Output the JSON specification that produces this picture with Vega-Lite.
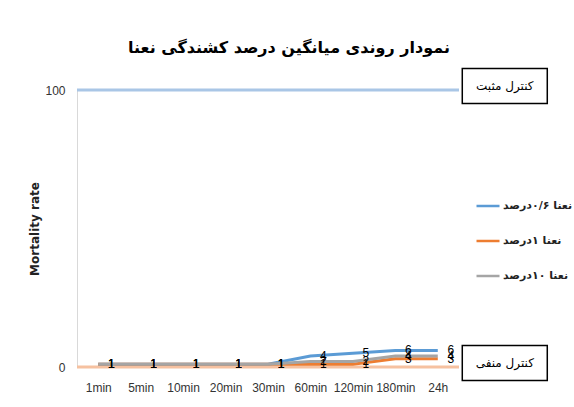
{
  "$schema": "https://vega.github.io/schema/vega-lite/v6.json",
  "width": 382,
  "height": 277,
  "autosize": {"type": "none"},
  "padding": {"left": 77, "top": 90, "right": 115, "bottom": 40},
  "background": "white",
  "config": {"view": {"stroke": null}, "font": "DejaVu Sans"},
  "title": {
    "text": "نمودار روندی میانگین درصد کشندگی نعنا",
    "font": "DejaVu Sans",
    "fontSize": 16,
    "fontWeight": "bold",
    "color": "black",
    "anchor": "middle",
    "dx": 21,
    "offset": 10
  },
  "datasets": {
    "series": [
      {"time": "1min", "series": "نعنا ۰/۶درصد", "value": 1},
      {"time": "5min", "series": "نعنا ۰/۶درصد", "value": 1},
      {"time": "10min", "series": "نعنا ۰/۶درصد", "value": 1},
      {"time": "20min", "series": "نعنا ۰/۶درصد", "value": 1},
      {"time": "30min", "series": "نعنا ۰/۶درصد", "value": 1},
      {"time": "60min", "series": "نعنا ۰/۶درصد", "value": 4},
      {"time": "120min", "series": "نعنا ۰/۶درصد", "value": 5},
      {"time": "180min", "series": "نعنا ۰/۶درصد", "value": 6},
      {"time": "24h", "series": "نعنا ۰/۶درصد", "value": 6},
      {"time": "1min", "series": "نعنا ۱درصد", "value": 1},
      {"time": "5min", "series": "نعنا ۱درصد", "value": 1},
      {"time": "10min", "series": "نعنا ۱درصد", "value": 1},
      {"time": "20min", "series": "نعنا ۱درصد", "value": 1},
      {"time": "30min", "series": "نعنا ۱درصد", "value": 1},
      {"time": "60min", "series": "نعنا ۱درصد", "value": 1},
      {"time": "120min", "series": "نعنا ۱درصد", "value": 1},
      {"time": "180min", "series": "نعنا ۱درصد", "value": 3},
      {"time": "24h", "series": "نعنا ۱درصد", "value": 3},
      {"time": "1min", "series": "نعنا ۱۰درصد", "value": 1},
      {"time": "5min", "series": "نعنا ۱۰درصد", "value": 1},
      {"time": "10min", "series": "نعنا ۱۰درصد", "value": 1},
      {"time": "20min", "series": "نعنا ۱۰درصد", "value": 1},
      {"time": "30min", "series": "نعنا ۱۰درصد", "value": 1},
      {"time": "60min", "series": "نعنا ۱۰درصد", "value": 2},
      {"time": "120min", "series": "نعنا ۱۰درصد", "value": 2},
      {"time": "180min", "series": "نعنا ۱۰درصد", "value": 4},
      {"time": "24h", "series": "نعنا ۱۰درصد", "value": 4}
    ],
    "controls": [
      {"name": "کنترل مثبت", "value": 100},
      {"name": "کنترل منفی", "value": 0}
    ]
  },
  "layer": [
    {
      "data": {"name": "controls"},
      "transform": [{"filter": "datum.value == 100"}],
      "mark": {"type": "rule", "color": "#a9c6e6", "strokeWidth": 3},
      "encoding": {
        "y": {
          "field": "value",
          "type": "quantitative",
          "scale": {"domain": [0, 100], "nice": false},
          "axis": {
            "values": [0, 100],
            "title": "Mortality rate",
            "titleFont": "DejaVu Sans",
            "titleFontSize": 12,
            "titleFontWeight": "bold",
            "titleColor": "#222222",
            "titlePadding": 3,
            "ticks": false,
            "grid": false,
            "domainColor": "#d9d9d9",
            "labelFont": "Liberation Sans Narrow, Liberation Sans",
            "labelFontSize": 12,
            "labelColor": "#333333",
            "labelPadding": 12
          }
        }
      }
    },
    {
      "data": {"name": "controls"},
      "transform": [{"filter": "datum.value == 0"}],
      "mark": {"type": "rule", "color": "#f6c1a0", "strokeWidth": 3},
      "encoding": {
        "y": {"field": "value", "type": "quantitative"}
      }
    },
    {
      "data": {"name": "series"},
      "mark": {"type": "line", "strokeWidth": 3},
      "encoding": {
        "x": {
          "field": "time",
          "type": "nominal",
          "sort": ["1min", "5min", "10min", "20min", "30min", "60min", "120min", "180min", "24h"],
          "axis": {
            "title": null,
            "labelAngle": 0,
            "domain": false,
            "ticks": false,
            "labelPadding": 15,
            "labelFont": "Liberation Sans Narrow, Liberation Sans",
            "labelFontSize": 12,
            "labelColor": "#333333"
          }
        },
        "y": {"field": "value", "type": "quantitative"},
        "color": {
          "field": "series",
          "type": "nominal",
          "scale": {
            "domain": ["نعنا ۰/۶درصد", "نعنا ۱درصد", "نعنا ۱۰درصد"],
            "range": ["#5b9bd5", "#ed7d31", "#a5a5a5"]
          },
          "legend": {
            "title": null,
            "orient": "none",
            "legendX": 398,
            "legendY": 103,
            "symbolType": "stroke",
            "symbolSize": 529,
            "symbolStrokeWidth": 2.5,
            "labelFont": "DejaVu Sans",
            "labelFontSize": 11,
            "labelFontWeight": "bold",
            "labelColor": "#222222",
            "labelOffset": 2,
            "labelLimit": 200,
            "rowPadding": 17
          }
        }
      }
    },
    {
      "data": {"name": "series"},
      "mark": {"type": "text", "dx": 13, "baseline": "middle", "fontSize": 12, "font": "Liberation Sans Narrow, Liberation Sans", "color": "black"},
      "encoding": {
        "x": {"field": "time", "type": "nominal", "sort": ["1min", "5min", "10min", "20min", "30min", "60min", "120min", "180min", "24h"]},
        "y": {"field": "value", "type": "quantitative"},
        "text": {"field": "value", "type": "quantitative"}
      }
    },
    {
      "data": {"name": "controls"},
      "mark": {"type": "point", "shape": "M-1,-0.41H1V0.41H-1Z", "size": 7225, "fill": "white", "fillOpacity": 1, "stroke": "black", "strokeWidth": 1.5, "opacity": 1, "xOffset": 67, "yOffset": -4},
      "encoding": {
        "x": {"datum": "24h"},
        "y": {"field": "value", "type": "quantitative"}
      }
    },
    {
      "data": {"name": "controls"},
      "mark": {"type": "text", "xOffset": 67, "yOffset": -4, "baseline": "middle", "align": "center", "fontSize": 12, "font": "DejaVu Sans", "color": "black"},
      "encoding": {
        "x": {"datum": "24h"},
        "y": {"field": "value", "type": "quantitative"},
        "text": {"field": "name"}
      }
    }
  ]
}
